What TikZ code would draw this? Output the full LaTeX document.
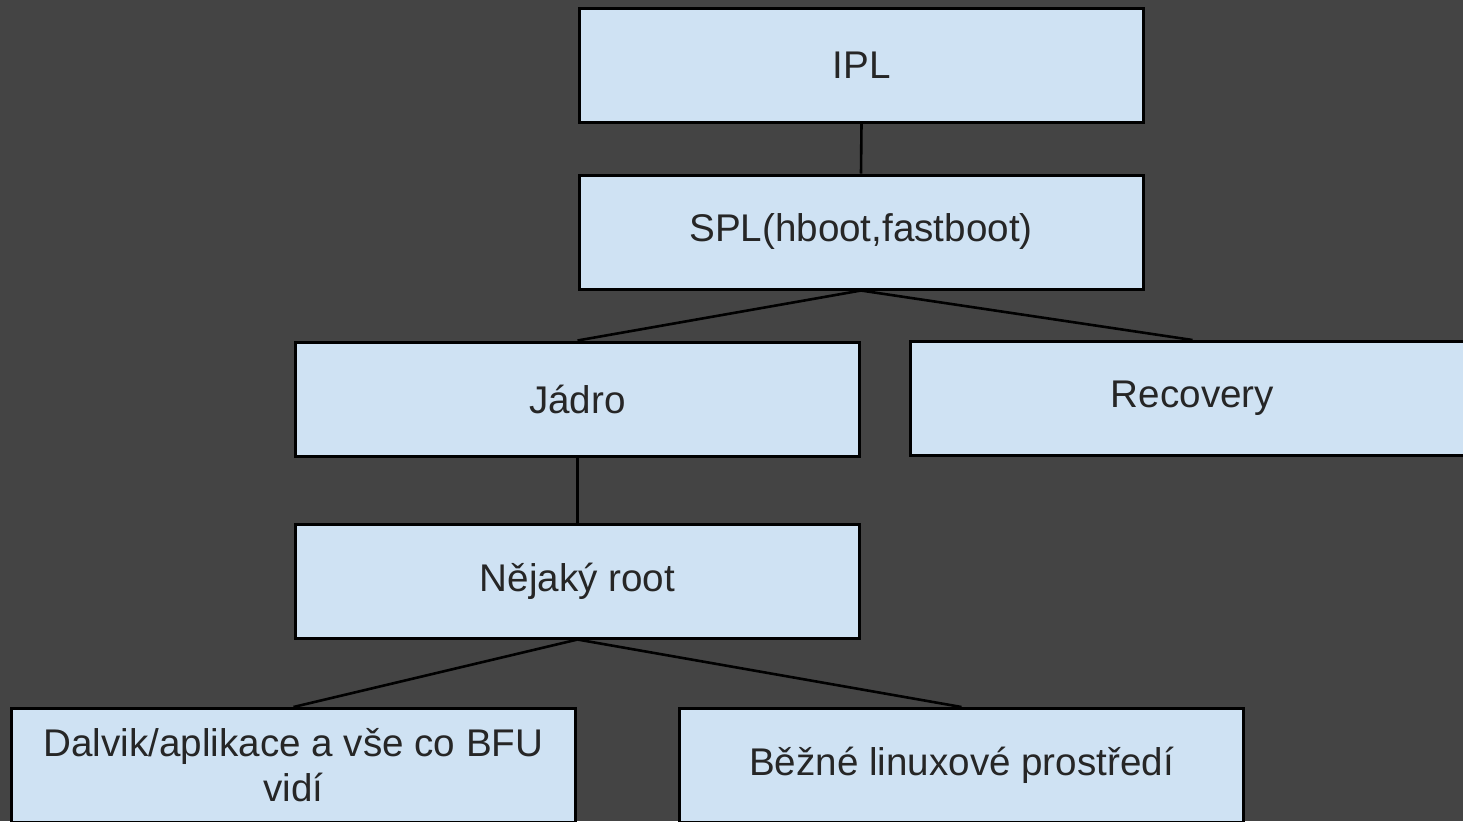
\documentclass[tikz,border=0pt]{standalone}
\usepackage{fontspec}
\setmainfont{Liberation Sans}
\definecolor{bgdark}{HTML}{444444}
\definecolor{boxblue}{HTML}{CFE2F3}

\begin{document}
\begin{tikzpicture}[x = 0.5pt, y = -0.5pt,
    block/.style = {draw = black, line width = 1.5pt, fill = boxblue, text = black!85,
                    minimum width = 282pt, minimum height = 57pt, inner sep = 0pt,
                    align = center, font = \fontsize{19.3}{22.5}\selectfont},
    link/.style = {line width = 1.3pt, draw = black}]
      \useasboundingbox (0,0) rectangle (1463,821);
      \fill[bgdark] (0,0) rectangle (1463,821);
      \clip (0,0) rectangle (1463,821);
      \node[block] (ipl)      at (861.5,65)    {IPL};
      \node[block] (spl)      at (861,232)     {SPL(hboot,fastboot)};
      \node[block] (jadro)    at (577.5,399)   {Jádro};
      \node[block] (recovery) at (1192.5,398.5) {Recovery};
      \node[block] (root)     at (577.5,581)   {Nějaký root};
      \node[block] (dalvik)   at (293.5,765.5) {Dalvik/aplikace a vše co BFU\\vidí};
      \node[block] (linux)    at (961.5,765.5) {Běžné linuxové prostředí};
      \path[link] (ipl.south)   edge (spl.north)
                  (spl.south)   edge (jadro.north)
                  (spl.south)   edge (recovery.north)
                  (jadro.south) edge (root.north)
                  (root.south)  edge (dalvik.north)
                  (root.south)  edge (linux.north);
    \end{tikzpicture}
\end{document}
